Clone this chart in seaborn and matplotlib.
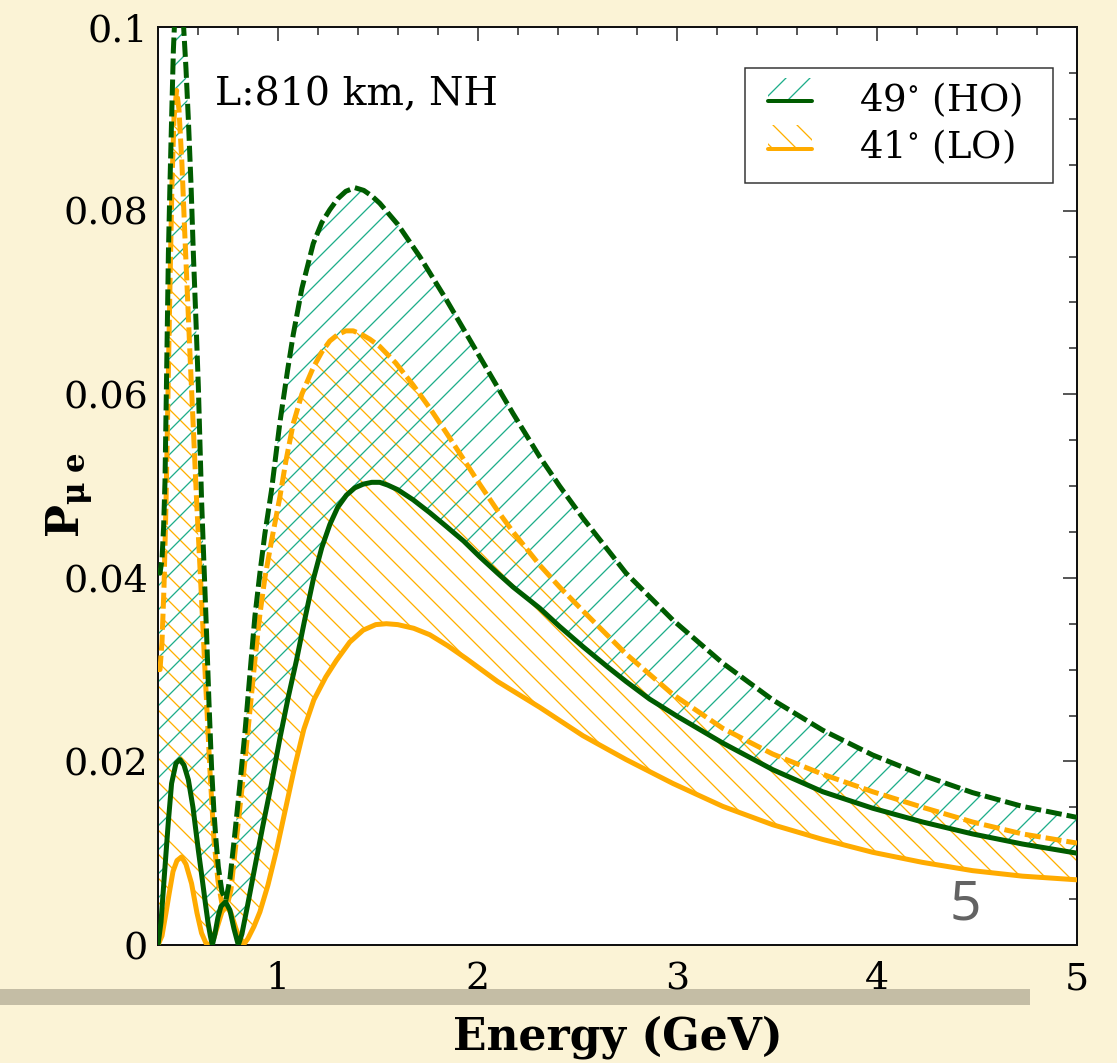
import matplotlib
matplotlib.use("Agg")
import numpy as np
import pandas as pd
import seaborn as sns
import matplotlib.pyplot as plt
from matplotlib.legend_handler import HandlerBase
from matplotlib.patches import Rectangle, Patch
from matplotlib.lines import Line2D
from matplotlib.ticker import MultipleLocator

# ---------------- data ----------------
E_HO_up = [0.400,0.410,0.420,0.428,0.435,0.443,0.452,0.460,0.468,0.477,0.488,0.500,0.512,0.527,0.540,
           0.552,0.565,0.577,0.590,0.602,0.618,0.630,0.643,0.655,0.668,0.680,0.690,0.702,0.720,0.740,
           0.760,0.785,0.810,0.835,0.860,0.885,0.910,0.935,0.968,1.010,1.050,1.077,1.120,1.177,1.220,
           1.260,1.300,1.340,1.385,1.430,1.470,1.510,1.600,1.710,1.843,2.010,2.177,2.310,2.410,2.527,
           2.743,2.977,3.227,3.477,3.727,3.977,4.227,4.477,4.727,5.000]
P_HO_up = [0.0410,0.0405,0.0420,0.0455,0.0505,0.0620,0.0753,0.0830,0.0899,0.0975,0.1030,0.1060,0.1050,0.1005,0.0955,
           0.0899,0.0830,0.0753,0.0680,0.0608,0.0485,0.0415,0.0340,0.0265,0.0194,0.0145,0.0115,0.0085,0.0058,0.0049,
           0.0072,0.0122,0.0175,0.0231,0.0295,0.0358,0.0405,0.0448,0.0495,0.0569,0.0628,0.0665,0.0715,0.0764,0.0787,
           0.0801,0.0813,0.0821,0.0825,0.0822,0.0816,0.0808,0.0785,0.0750,0.0703,0.0641,0.0579,0.0532,0.0500,0.0465,
           0.0405,0.0354,0.0307,0.0267,0.0234,0.0207,0.0185,0.0166,0.0151,0.0139]

E_HO_lo = [0.400,0.415,0.435,0.452,0.468,0.490,0.510,0.530,0.552,0.575,0.602,0.620,0.635,0.650,0.662,
           0.672,0.685,0.700,0.715,0.738,0.760,0.780,0.802,0.820,0.850,0.885,0.925,0.968,1.010,1.052,
           1.093,1.135,1.177,1.220,1.260,1.300,1.343,1.385,1.427,1.470,1.510,1.550,1.600,1.677,1.760,
           1.843,1.930,2.010,2.100,2.177,2.310,2.410,2.527,2.650,2.743,2.860,3.000,3.227,3.477,3.727,
           3.977,4.227,4.477,4.727,5.000]
P_HO_lo = [0.0000,0.0025,0.0085,0.0135,0.0176,0.0198,0.0202,0.0196,0.0180,0.0150,0.0103,0.0074,0.0049,0.0025,0.0010,
           0.0000,0.0012,0.0030,0.0042,0.0047,0.0038,0.0018,0.0000,0.0012,0.0045,0.0085,0.0130,0.0176,0.0225,0.0270,
           0.0310,0.0355,0.0398,0.0433,0.0458,0.0477,0.0490,0.0498,0.0502,0.0504,0.0504,0.0501,0.0496,0.0485,0.0471,
           0.0456,0.0440,0.0423,0.0405,0.0390,0.0367,0.0347,0.0325,0.0303,0.0287,0.0268,0.0249,0.0220,0.0191,0.0167,
           0.0149,0.0134,0.0121,0.0110,0.0100]

E_LO_up = [0.400,0.410,0.420,0.430,0.440,0.450,0.460,0.470,0.480,0.493,0.505,0.520,0.535,0.560,0.593,
           0.615,0.635,0.660,0.680,0.700,0.720,0.745,0.765,0.785,0.810,0.835,0.860,0.885,0.910,0.935,
           0.968,1.010,1.040,1.077,1.120,1.177,1.220,1.260,1.300,1.340,1.377,1.420,1.460,1.510,1.590,
           1.677,1.760,1.843,1.930,2.010,2.100,2.177,2.310,2.410,2.527,2.743,2.977,3.227,3.477,3.727,
           3.977,4.227,4.477,4.727,5.000]
P_LO_up = [0.0300,0.0300,0.0330,0.0390,0.0480,0.0600,0.0720,0.0830,0.0900,0.0931,0.0910,0.0850,0.0770,0.0644,0.0485,
           0.0390,0.0300,0.0190,0.0115,0.0070,0.0045,0.0042,0.0060,0.0100,0.0150,0.0200,0.0255,0.0310,0.0360,0.0400,
           0.0440,0.0488,0.0527,0.0568,0.0600,0.0629,0.0646,0.0658,0.0665,0.0669,0.0669,0.0665,0.0660,0.0652,0.0634,
           0.0610,0.0585,0.0558,0.0529,0.0502,0.0473,0.0450,0.0414,0.0390,0.0364,0.0317,0.0273,0.0236,0.0208,0.0186,
           0.0167,0.0150,0.0134,0.0121,0.0111]

E_LO_lo = [0.400,0.420,0.440,0.455,0.475,0.495,0.518,0.540,0.568,0.595,0.618,0.640,0.660,0.680,0.700,
           0.720,0.743,0.765,0.790,0.810,0.827,0.850,0.880,0.910,0.950,0.993,1.040,1.085,1.130,1.180,
           1.240,1.293,1.360,1.427,1.490,1.543,1.600,1.680,1.760,1.850,1.943,2.100,2.310,2.527,2.743,
           2.977,3.227,3.477,3.727,3.977,4.227,4.477,4.727,5.000]
P_LO_lo = [0.0000,0.0010,0.0035,0.0055,0.0080,0.0092,0.0096,0.0088,0.0067,0.0035,0.0013,0.0002,0.0000,0.0008,0.0022,
           0.0036,0.0042,0.0035,0.0018,0.0006,0.0000,0.0007,0.0020,0.0036,0.0065,0.0103,0.0150,0.0195,0.0235,0.0267,
           0.0292,0.0310,0.0330,0.0343,0.0349,0.0350,0.0349,0.0345,0.0338,0.0326,0.0312,0.0287,0.0259,0.0228,0.0202,
           0.0176,0.0151,0.0131,0.0115,0.0101,0.0090,0.0081,0.0075,0.0071]

labels = ["49$^{\\circ}$ (HO)", "41$^{\\circ}$ (LO)"]
x_ticks = [1, 2, 3, 4, 5]
y_ticks = [0, 0.02, 0.04, 0.06, 0.08, 0.1]
y_ticklabels = ["0", "0.02", "0.04", "0.06", "0.08", "0.1"]

# ---------------- style ----------------
sns.set_style("white")
plt.rcParams["font.family"] = ["DejaVu Serif"]
plt.rcParams["mathtext.fontset"] = "dejavuserif"
plt.rcParams["lines.scale_dashes"] = False
plt.rcParams["hatch.linewidth"] = 1.3
for k in ["text.color", "axes.labelcolor", "xtick.color", "ytick.color"]:
    plt.rcParams[k] = "black"

BG = "#fbf3d6"
GREEN = "#005c00"
TEAL = "#1fae8a"
ORANGE = "#ffab00"
ORANGE_H = "#ffb000"
LW = 5

W, H = 1117, 1063
fig = plt.figure(figsize=(W / 72, H / 72), dpi=72, facecolor=BG)
ax = fig.add_axes([158 / W, 118 / H, 919 / W, 918 / H])
ax.set_facecolor("white")

# decorative slide bar
fig.add_artist(Rectangle((0, (H - 1005) / H), 1030 / W, 16 / H,
                         transform=fig.transFigure, color="#c4bda5", zorder=-1, lw=0))

# ---------------- hatched bands ----------------
def band(ax, xu, yu, xl, yl, hatch, color):
    px = list(xu) + list(xl)[::-1]
    py = list(yu) + list(yl)[::-1]
    ax.fill(px, py, facecolor="none", edgecolor=color, hatch=hatch, linewidth=0, zorder=1)

band(ax, E_LO_up, P_LO_up, E_LO_lo, P_LO_lo, "\\", ORANGE_H)
band(ax, E_HO_up, P_HO_up, E_HO_lo, P_HO_lo, "/", TEAL)

# ---------------- lines via seaborn ----------------
curves = [
    ("LO_lo", E_LO_lo, P_LO_lo, ORANGE, ""),
    ("LO_up", E_LO_up, P_LO_up, ORANGE, (16, 5)),
    ("HO_lo", E_HO_lo, P_HO_lo, GREEN, ""),
    ("HO_up", E_HO_up, P_HO_up, GREEN, (16, 5)),
]
for name, xs, ys, col, dsh in curves:
    df = pd.DataFrame({"E": xs, "P": ys, "curve": name})
    sns.lineplot(data=df, x="E", y="P", style="curve", dashes={name: dsh},
                 color=col, linewidth=LW, legend=False, estimator=None, ax=ax, zorder=3)

# ---------------- axes ----------------
ax.set_xlim(0.4, 5)
ax.set_ylim(0, 0.1)
ax.set_xticks(x_ticks)
ax.set_xticklabels([str(v) for v in x_ticks])
ax.set_yticks(y_ticks)
ax.set_yticklabels(y_ticklabels)
ax.xaxis.set_minor_locator(MultipleLocator(0.2))
ax.yaxis.set_minor_locator(MultipleLocator(0.005))
ax.tick_params(which="both", direction="in", top=True, right=True, width=1.5, color="#222222")
ax.tick_params(which="major", length=14, labelsize=38)
ax.tick_params(which="minor", length=8)
ax.tick_params(axis="x", which="major", pad=16)
ax.tick_params(axis="y", which="major", pad=10)
for s in ax.spines.values():
    s.set_linewidth(2)
    s.set_color("#111111")

ax.set_xlabel("Energy (GeV)", fontsize=44, fontweight="bold")
ax.xaxis.set_label_coords(0.5, -0.077)
ax.set_ylabel(r"$\mathbf{P_{\mu\ e}}$", fontsize=44)
ax.yaxis.set_label_coords(-0.068, 0.49)

ax.text(0.062, 0.915, "L:810 km, NH", fontsize=39.5, transform=ax.transAxes, va="baseline")

# ---------------- legend ----------------
class HatchLine(HandlerBase):
    def __init__(self, hatch, hcolor, lcolor, shift=8):
        super().__init__()
        self.hatch, self.hcolor, self.lcolor, self.shift = hatch, hcolor, lcolor, shift

    def create_artists(self, legend, orig_handle, xdescent, ydescent, width, height, fontsize, trans):
        y0 = -ydescent + self.shift
        r = Rectangle((-xdescent, y0), width, height, facecolor="none",
                      edgecolor=self.hcolor, hatch=self.hatch, lw=0, transform=trans)
        l = Line2D([-xdescent, -xdescent + width], [y0, y0],
                   color=self.lcolor, lw=4, transform=trans)
        return [r, l]

# legend frame drawn explicitly at the reference position
frame = Rectangle((745 / W, (H - 183) / H), (1053 - 745) / W, (183 - 68) / H,
                  transform=fig.transFigure, facecolor="white", edgecolor="#333333",
                  lw=1.5, zorder=4)
ax.add_artist(frame)
frame.set_clip_on(False)

h1 = Patch(label=labels[0])
h2 = Patch(label=labels[1])
leg = ax.legend(handles=[h1, h2],
                handler_map={h1: HatchLine("/", TEAL, GREEN), h2: HatchLine("\\", ORANGE_H, ORANGE)},
                loc="upper left", bbox_to_anchor=(768 / W, (H - 80) / H),
                bbox_transform=fig.transFigure, fontsize=37,
                frameon=False, handlelength=1.2, handleheight=0.6, handletextpad=1.25,
                borderpad=0, labelspacing=0.24, borderaxespad=0)
leg.set_zorder(5)

# page number
fig.text(965 / W, (H - 905) / H, "5", fontsize=55, color="#636363",
         family="Noto Sans", ha="center", va="center")

fig.savefig("out.png", dpi=72, facecolor=BG)
